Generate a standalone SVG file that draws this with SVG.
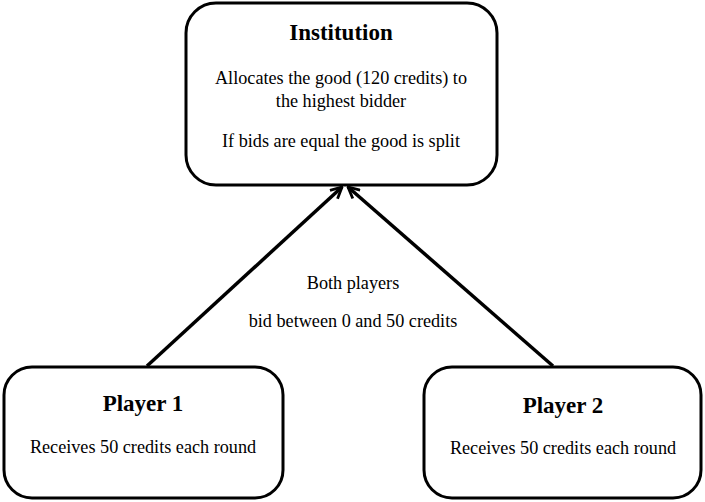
<svg xmlns="http://www.w3.org/2000/svg" width="705" height="502" viewBox="0 0 705 502">
<style>
.box{fill:#fff;stroke:#000;stroke-width:3}
text{font-family:'Liberation Serif','Times New Roman','DejaVu Serif',serif;fill:#000;text-anchor:middle}
.t{font-size:18.2px}
.h{font-size:23px;font-weight:bold}
.c{stroke:#000;stroke-width:3.5;fill:none}
</style>
<defs>
<marker id="ah" viewBox="0 0 10 10" refX="9" refY="5" markerWidth="4" markerHeight="4" orient="auto" markerUnits="strokeWidth">
<path d="M1,1 L9,5 L1,9" fill="none" stroke="#000" stroke-width="2"/>
</marker>
</defs>
<rect width="705" height="502" fill="#fff"/>
<g id="connectors">
<line class="c" x1="147" y1="366" x2="342" y2="187" marker-end="url(#ah)"/>
<line class="c" x1="553" y1="366" x2="348" y2="187" marker-end="url(#ah)"/>
<text class="t" x="353" y="289">Both players</text>
<text class="t" x="353" y="327">bid between 0 and 50 credits</text>
</g>
<g id="institution">
<rect class="box" x="186" y="3" width="311" height="182" rx="30"/>
<text class="h" x="341" y="40">Institution</text>
<text class="t" x="341" y="84">Allocates the good (120 credits) to</text>
<text class="t" x="341" y="107">the highest bidder</text>
<text class="t" x="341" y="147">If bids are equal the good is split</text>
</g>
<g id="player1">
<rect class="box" x="4" y="367" width="279" height="131" rx="28"/>
<text class="h" x="143" y="411">Player 1</text>
<text class="t" x="143" y="453">Receives 50 credits each round</text>
</g>
<g id="player2">
<rect class="box" x="424" y="367" width="277" height="131" rx="28"/>
<text class="h" x="563" y="413">Player 2</text>
<text class="t" x="563" y="454">Receives 50 credits each round</text>
</g>
</svg>
